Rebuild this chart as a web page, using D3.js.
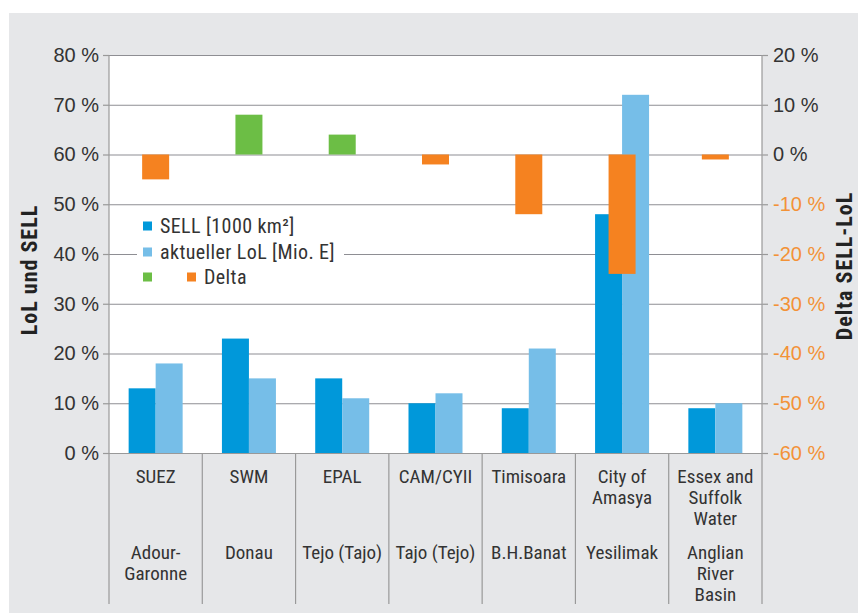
<!DOCTYPE html>
<html>
<head>
<meta charset="utf-8">
<script src="https://cdn.jsdelivr.net/npm/d3@7"></script>
<style>
  body { margin: 0; background: #fff; }
  svg text { font-family: "Roboto Condensed", "Liberation Sans Narrow", "Liberation Sans", sans-serif; }
  svg .tick text { font-family: "Liberation Sans", Arial, sans-serif; }
</style>
</head>
<body>
<svg id="chart" width="858" height="613"></svg>
<script>
// data
var companies = ["SUEZ", "SWM", "EPAL", "CAM/CYII", "Timisoara", "City of|Amasya", "Essex and|Suffolk|Water"];
var basins = ["Adour-|Garonne", "Donau", "Tejo (Tajo)", "Tajo (Tejo)", "B.H.Banat", "Yesilimak", "Anglian|River|Basin"];
var sell = [13, 23, 15, 10, 9, 48, 9];
var lol = [18, 15, 11, 12, 21, 72, 10];
var delta = [-5, 8, 4, -2, -12, -24, -1];
var leftTicks = [0, 10, 20, 30, 40, 50, 60, 70, 80];
var rightTicks = [-60, -50, -40, -30, -20, -10, 0, 10, 20];

var col = {sell: "#0098da", lol: "#76bee8", pos: "#6cbe45", neg: "#f58220", grid: "#8e8e93", axis: "#999"};

var svg = d3.select("#chart");
var m = {l: 109, r: 762, t: 55, b: 453, foot: 604};

svg.append("rect").attr("x", 9).attr("y", 13).attr("width", 858 - 9).attr("height", 613 - 13).attr("fill", "#e6e7e9");
svg.append("rect").attr("x", m.l).attr("y", m.t).attr("width", m.r - m.l).attr("height", m.b - m.t).attr("fill", "#fff");

var idx = d3.range(companies.length);
var x = d3.scaleBand().domain(idx).range([m.l, m.r]);
var y = d3.scaleLinear().domain([0, 80]).range([m.b, m.t]);
var y2 = d3.scaleLinear().domain([-60, 20]).range([m.b, m.t]);
var barW = 27;
var x1 = d3.scaleBand().domain(["sell", "lol"]).range([-barW, barW]);

// gridlines
svg.append("g").selectAll("line").data(leftTicks.slice(1)).join("line")
  .attr("x1", m.l).attr("x2", m.r)
  .attr("y1", d => y(d) + 0.5).attr("y2", d => y(d) + 0.5)
  .attr("stroke", col.grid).attr("stroke-width", 1.2);

// axes
var ax = svg.append("g").attr("transform", "translate(" + m.l + ",0)")
  .call(d3.axisLeft(y).tickValues(leftTicks).tickSize(6).tickPadding(4).tickFormat(d => d + " %"));
var ax2 = svg.append("g").attr("transform", "translate(" + m.r + ",0)")
  .call(d3.axisRight(y2).tickValues(rightTicks).tickSize(6).tickPadding(5).tickFormat(d => d + " %"));
[ax, ax2].forEach(function(a){
  a.select(".domain").remove();
  a.selectAll("line").attr("stroke", col.axis).attr("stroke-width", 1.2);
  a.selectAll("text").attr("font-size", 20).attr("fill", "#333");
});
ax2.selectAll("text").attr("fill", d => d < 0 ? "#f39237" : "#333");

// vertical axis lines and category separators
svg.append("g").selectAll("line").data(d3.range(companies.length + 1)).join("line")
  .attr("x1", d => d < companies.length ? x(d) : m.r)
  .attr("x2", d => d < companies.length ? x(d) : m.r)
  .attr("y1", d => (d === 0 || d === companies.length) ? m.t : m.b)
  .attr("y2", m.foot)
  .attr("stroke", col.axis).attr("stroke-width", 1.2);
svg.append("line").attr("x1", m.l).attr("x2", m.r).attr("y1", m.b + 0.5).attr("y2", m.b + 0.5)
  .attr("stroke", col.axis).attr("stroke-width", 1.2);

// legend background (breaks gridline)
svg.append("rect").attr("x", 137).attr("y", 212).attr("width", 207).attr("height", 78).attr("fill", "#fff");

// bars
var groups = svg.append("g").selectAll("g").data(idx).join("g")
  .attr("transform", d => "translate(" + (x(d) + x.bandwidth() / 2) + ",0)");
groups.append("rect").attr("x", x1("sell")).attr("width", barW)
  .attr("y", d => y(sell[d])).attr("height", d => y(0) - y(sell[d])).attr("fill", col.sell);
groups.append("rect").attr("x", x1("lol")).attr("width", barW)
  .attr("y", d => y(lol[d])).attr("height", d => y(0) - y(lol[d])).attr("fill", col.lol);
groups.append("rect").attr("x", -barW / 2).attr("width", barW)
  .attr("y", d => y2(Math.max(0, delta[d])))
  .attr("height", d => Math.abs(y2(delta[d]) - y2(0)))
  .attr("fill", d => delta[d] >= 0 ? col.pos : col.neg);

// category labels
function multiline(sel, arr, y0) {
  sel.each(function(d){
    var lines = arr[d].split("|");
    var t = d3.select(this).append("text").attr("text-anchor", "middle").attr("font-size", 19).attr("fill", "#333");
    lines.forEach(function(l, i){
      t.append("tspan").attr("x", 0).attr("y", y0 + i * 21).text(l);
    });
  });
}
var cat = svg.append("g").selectAll("g").data(idx).join("g")
  .attr("transform", d => "translate(" + (x(d) + x.bandwidth() / 2) + ",0)");
multiline(cat, companies, 483);
multiline(cat, basins, 559);

// axis titles
svg.append("text").attr("transform", "translate(37,270) rotate(-90)").attr("text-anchor", "middle")
  .attr("font-size", 22).attr("font-weight", "bold").attr("letter-spacing", 1).attr("fill", "#222").text("LoL und SELL");
svg.append("text").attr("transform", "translate(852,266) rotate(-90)").attr("text-anchor", "middle")
  .attr("font-size", 22).attr("font-weight", "bold").attr("letter-spacing", 1).attr("fill", "#222").text("Delta SELL-LoL");

// legend
var leg = [
  {c: col.sell, t: "SELL [1000 km²]", x: 143, y: 226},
  {c: col.lol, t: "aktueller LoL [Mio. E]", x: 143, y: 252},
  {c: col.pos, t: "", x: 143, y: 277},
  {c: col.neg, t: "Delta", x: 187, y: 277}
];
var lg = svg.append("g").selectAll("g").data(leg).join("g");
lg.append("rect").attr("x", d => d.x).attr("y", d => d.y - 4.5).attr("width", 9).attr("height", 9).attr("fill", d => d.c);
lg.append("text").attr("x", d => d.x + 17).attr("y", d => d.y + 7).attr("font-size", 20).attr("letter-spacing", 0.4)
  .attr("fill", "#333").text(d => d.t);
</script>
</body>
</html>
